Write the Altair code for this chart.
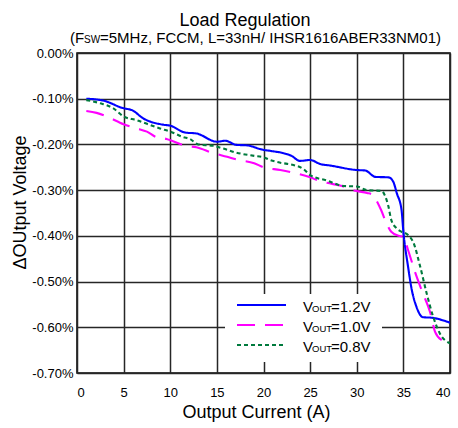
import altair as alt
import pandas as pd

FONT = "Liberation Sans"

# Output current (A) and output voltage change (%) for each output voltage
current_12 = [1, 2.8, 5, 5.9, 7.1, 9.3, 10, 11.6, 12.8, 15, 15.9, 17.1, 18.2, 20, 20.7,
              23, 23.9, 25, 26.1, 27.1, 30, 30.9, 32, 33.4, 33.9, 34.3, 34.8, 35.0,
              35.5, 35.9, 36.4, 37.1, 38, 40]
dv_12 = [-0.100, -0.104, -0.121, -0.125, -0.143, -0.157, -0.159, -0.174, -0.176, -0.194,
         -0.192, -0.201, -0.202, -0.212, -0.214, -0.225, -0.236, -0.234, -0.243, -0.246,
         -0.256, -0.257, -0.271, -0.272, -0.281, -0.307, -0.343, -0.391, -0.467, -0.518,
         -0.555, -0.578, -0.579, -0.590]

current_10 = [1, 2.1, 3.2, 5, 6.4, 7.5, 8.5, 9.6, 10.3, 11.6, 12.8, 14.6, 16.1, 17.1, 19,
              20, 21.8, 23.2, 25, 25.9, 26.8, 28.2, 30, 31.1, 31.8, 32.1, 32.6, 33.2,
              33.7, 34.5, 35, 35.5, 36.3, 37.1, 37.9, 38.4, 39.1, 40]
dv_10 = [-0.127, -0.131, -0.139, -0.156, -0.165, -0.172, -0.184, -0.188, -0.193, -0.203,
         -0.206, -0.219, -0.227, -0.233, -0.241, -0.250, -0.256, -0.262, -0.272, -0.279,
         -0.284, -0.290, -0.302, -0.306, -0.311, -0.322, -0.343, -0.373, -0.391, -0.400,
         -0.402, -0.431, -0.482, -0.526, -0.569, -0.610, -0.628, -0.634]

current_08 = [1, 2.5, 3.9, 5, 6.4, 7.5, 8.9, 10, 11.4, 12.1, 13, 14.6, 15.7, 17.1, 19, 20,
              20.7, 21.8, 23.2, 24.3, 25, 26.8, 28.6, 30, 31.1, 32.7, 33, 33.4, 33.7,
              34.3, 34.8, 35.5, 36.1, 36.8, 37.5, 38.2, 38.9, 40]
dv_08 = [-0.103, -0.110, -0.121, -0.139, -0.147, -0.155, -0.165, -0.172, -0.184, -0.188,
         -0.200, -0.203, -0.209, -0.218, -0.225, -0.228, -0.234, -0.240, -0.245, -0.254,
         -0.267, -0.279, -0.291, -0.292, -0.300, -0.302, -0.311, -0.336, -0.365, -0.384,
         -0.391, -0.398, -0.416, -0.467, -0.526, -0.577, -0.613, -0.635]

vout_labels = ["1.2V", "1.0V", "0.8V"]
series_colors = ["#0000FF", "#FF00FF", "#007A3D"]
series_dashes = [[1, 0], [18, 10], [4, 3]]

x_ticks = [0, 5, 10, 15, 20, 25, 30, 35, 40]
y_ticks = [0.0, -0.1, -0.2, -0.3, -0.4, -0.5, -0.6, -0.7]

frames = []
for name, xs, ys in zip(vout_labels, [current_12, current_10, current_08], [dv_12, dv_10, dv_08]):
    frames.append(pd.DataFrame({"current": xs, "dv": ys, "series": name}))
df = pd.concat(frames, ignore_index=True)

lines = alt.Chart(df).mark_line(interpolate="monotone", strokeWidth=2.1, clip=True).encode(
    x=alt.X("current:Q",
            scale=alt.Scale(domain=[0, 40], nice=False, zero=False),
            axis=alt.Axis(values=x_ticks, title="Output Current (A)", labelPadding=13,
                          titleX=179, titleY=39, titleAlign="center",
                          titleBaseline="middle", format="d")),
    y=alt.Y("dv:Q",
            scale=alt.Scale(domain=[-0.7, 0], nice=False),
            axis=alt.Axis(values=y_ticks, title="ΔOUtput Voltage", labelPadding=4,
                          labelExpr="(datum.value < 0 ? '-' : '') + format(abs(datum.value), '.2f') + '%'",
                          titleX=-57, titleY=149, titleAlign="center",
                          titleBaseline="middle", titleAngle=-90)),
    color=alt.Color("series:N", scale=alt.Scale(domain=vout_labels, range=series_colors), legend=None),
    strokeDash=alt.StrokeDash("series:N", scale=alt.Scale(domain=vout_labels, range=series_dashes),
                              legend=None),
)

one = pd.DataFrame({"k": [0]})
layers = [lines]

# White legend panel over the lower-right grid
layers.append(alt.Chart(one).mark_rect(fill="white").encode(
    x=alt.value(148), x2=alt.value(305), y=alt.value(241), y2=alt.value(309)))

for i, (name, color, dash) in enumerate(zip(vout_labels, series_colors, series_dashes)):
    row = 252 + 20 * i
    layers.append(alt.Chart(one).mark_rule(color=color, strokeDash=dash, strokeWidth=2.2).encode(
        x=alt.value(160), x2=alt.value(209), y=alt.value(row)))
    base = alt.Chart(one).mark_text(align="left", baseline="alphabetic", font=FONT, color="black")
    layers.append(base.encode(x=alt.value(226), y=alt.value(row + 7), text=alt.value("V"),
                              size=alt.value(15)))
    layers.append(base.encode(x=alt.value(235), y=alt.value(row + 7), text=alt.value("OUT"),
                              size=alt.value(9.5)))
    layers.append(base.encode(x=alt.value(254), y=alt.value(row + 7), text=alt.value("=" + name),
                              size=alt.value(15)))

# Title and subtitle (with subscript)
layers.append(alt.Chart(one).mark_text(align="center", baseline="middle", font=FONT,
                                       fontSize=18, color="black").encode(
    x=alt.value(168), y=alt.value(-32), text=alt.value("Load Regulation")))
sub = alt.Chart(one).mark_text(align="left", baseline="alphabetic", font=FONT, color="black")
layers.append(sub.encode(x=alt.value(-7), y=alt.value(-10), text=alt.value("(F"), size=alt.value(15)))
layers.append(sub.encode(x=alt.value(7), y=alt.value(-10), text=alt.value("SW"), size=alt.value(10)))
layers.append(sub.encode(x=alt.value(23), y=alt.value(-10),
                         text=alt.value("=5MHz, FCCM, L=33nH/ IHSR1616ABER33NM01)"),
                         size=alt.value(15)))

chart = alt.layer(*layers).properties(
    width=373, height=320,
    padding={"left": 77, "top": 53, "right": 8, "bottom": 55},
    autosize=alt.AutoSizeParams(type="none"),
    background="white",
).configure_view(
    stroke="black", strokeWidth=1.5
).configure_axis(
    labelFont=FONT, labelFontSize=13, labelColor="black",
    titleFont=FONT, titleFontSize=18, titleColor="black", titleFontWeight="normal",
    grid=True, gridColor="#262626", gridWidth=1.5, gridOpacity=1,
    domain=False, ticks=False,
)

chart.save("out.html", embed_options={"renderer": "svg", "actions": False})
